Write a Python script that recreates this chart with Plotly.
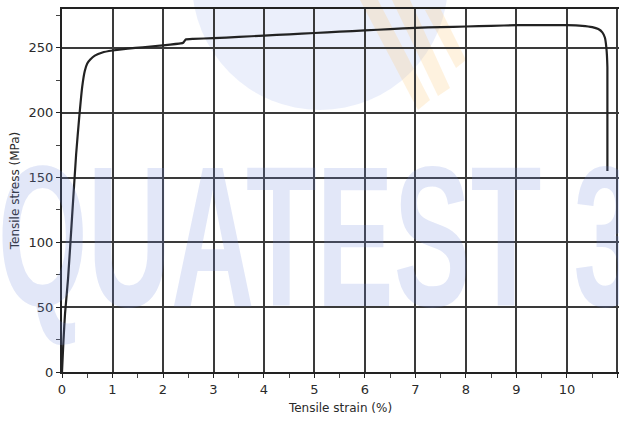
import plotly.graph_objects as go

# tensile test curve
strain = [0, 0.03, 0.06, 0.12, 0.2, 0.28, 0.34, 0.4, 0.45, 0.5, 0.56, 0.65, 0.8, 1.0, 1.3, 1.6,
          2.0, 2.35, 2.4, 2.45, 2.6, 3.0, 3.5, 4.0, 4.5, 5.0, 5.5, 6.0, 6.5, 7.0, 7.5, 8.0,
          8.5, 9.0, 9.5, 10.0, 10.3, 10.5, 10.62, 10.7, 10.75, 10.78, 10.8, 10.8]
stress = [0, 25, 45, 72, 120, 168, 196, 220, 232, 238, 241, 244, 246.5, 248, 249.5, 250.5,
          252, 253.5, 254, 256.5, 257, 257.5, 258.5, 259.5, 260.5, 261.5, 262.5, 263.5, 264.5, 265.5, 266, 266.5,
          267, 267.5, 267.5, 267.5, 267, 266, 264.5, 262, 258, 250, 235, 155]

x_ticks = list(range(0, 12))
y_ticks = [0, 50, 100, 150, 200, 250]

W, H = 619, 424
L, T, R, B = 62, 9, 0, 52
PW, PH = W - L - R, H - T - B


def px(x, y):
    # pixel position -> paper coordinates
    return (x - L) / PW, (H - B - y) / PH


def path(points):
    s = ''
    for i, (x, y) in enumerate(points):
        u, v = px(x, y)
        s += ('M' if i == 0 else 'L') + f'{u:.4f},{v:.4f} '
    return s + 'Z'


fig = go.Figure(go.Scatter(
    x=strain, y=stress, mode='lines',
    line=dict(color='#222222', width=2.2, shape='spline', smoothing=0.4),
    hoverinfo='skip', showlegend=False
))

# faint logo behind the grid: blue disk cut by the top edge, orange rays
x0, y0 = px(192, 110)
x1, y1 = px(448, -146)
shapes = [dict(type='circle', x0=x0, y0=y0, x1=x1, y1=y1, xref='paper', yref='paper',
               fillcolor='rgba(150,170,232,0.19)', line=dict(width=0), layer='below')]
stripes = [
    [(360, 0), (378, 0), (430, 100), (418, 110)],
    [(392, 0), (410, 0), (450, 88), (438, 96)],
    [(425, 10), (440, 8), (466, 60), (456, 68)],
]
for st in stripes:
    shapes.append(dict(type='path', path=path(st), xref='paper', yref='paper',
                       fillcolor='rgba(250,200,120,0.24)', line=dict(width=0), layer='below'))

fig.update_layout(
    width=W, height=H,
    margin=dict(l=L, r=R, t=T, b=B),
    paper_bgcolor='white', plot_bgcolor='rgba(0,0,0,0)',
    font=dict(family='DejaVu Sans', size=12, color='#2a2a2a'),
    shapes=shapes,
    xaxis=dict(
        range=[0, 11.03], tickvals=x_ticks, ticktext=[str(v) for v in x_ticks],
        showgrid=True, gridcolor='#3a3a3a', gridwidth=1.5,
        showline=True, linecolor='#222222', linewidth=2, mirror=True,
        ticks='outside', ticklen=4, tickcolor='#222222', zeroline=False,
        minor=dict(dtick=0.5, ticks='outside', ticklen=4, tickcolor='#444444', showgrid=False),
        title=dict(text='Tensile strain (%)', font=dict(size=12), standoff=8),
        tickfont=dict(size=13),
    ),
    yaxis=dict(
        range=[0, 280], tickvals=y_ticks,
        showgrid=True, gridcolor='#3a3a3a', gridwidth=1.5,
        showline=True, linecolor='#222222', linewidth=2,
        ticks='outside', ticklen=4, tickcolor='#222222', zeroline=False,
        minor=dict(dtick=25, ticks='outside', ticklen=4, tickcolor='#444444', showgrid=False),
        title=dict(text='Tensile stress (MPa)', font=dict(size=12), standoff=6),
        tickfont=dict(size=13),
    ),
    annotations=[dict(
        text='<b>QUATEST 3</b>', xref='paper', yref='paper',
        x=px(318, 0)[0], y=px(0, 236)[1], xanchor='center', yanchor='middle',
        showarrow=False,
        font=dict(family='Liberation Sans', size=200, color='rgba(110,135,220,0.2)'),
    )],
)

# page without body margin; squeeze the watermark into a condensed face
post = """
document.body.style.margin = '0';
var gd = document.getElementById('{plot_id}');
var t = gd.querySelector('.annotation-text');
if (t) {
  var bb = t.getBBox();
  var s = 640 / bb.width;
  var cx = bb.x + bb.width / 2;
  t.setAttribute('transform', 'translate(' + cx + ',0) scale(' + s + ',1) translate(' + (-cx) + ',0)');
}
"""

fig.write_html("out.html", post_script=post, config=dict(displayModeBar=False))
